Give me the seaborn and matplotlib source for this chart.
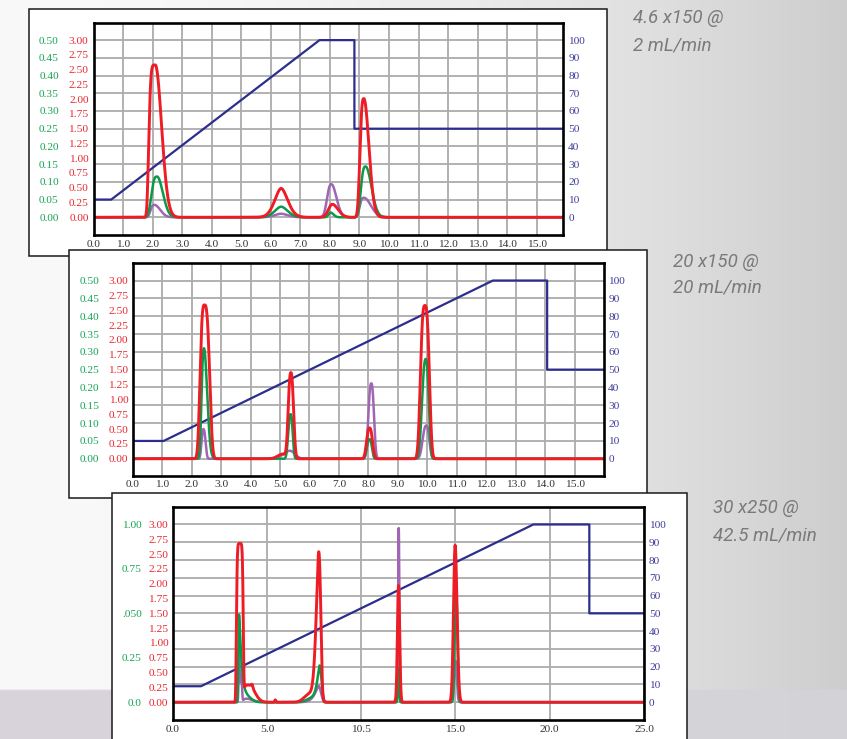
import numpy as np
import seaborn as sns
import matplotlib.pyplot as plt
from matplotlib.patches import Rectangle

W, H = 847, 739

# peak tables: (retention time [min], height [red AU], half width at half max left, right,
#               shape exponent left, right)
# ---- 4.6 x 150 @ 2 mL/min ----
P1_RED = [(2.09, 2.58, 0.22, 0.25, 5, 2), (6.35, 0.49, 0.25, 0.26, 1.8, 1.8),
          (8.08, 0.22, 0.15, 0.23, 2, 2), (9.15, 2.01, 0.14, 0.20, 3, 2)]
P1_GREEN = [(2.15, 0.69, 0.20, 0.23, 3, 2), (6.35, 0.18, 0.25, 0.26, 1.8, 1.8),
            (8.02, 0.08, 0.08, 0.12, 2, 2), (9.21, 0.86, 0.17, 0.23, 3, 2)]
P1_PURPLE = [(2.06, 0.21, 0.14, 0.23, 3, 2), (6.35, 0.06, 0.25, 0.26, 1.8, 1.8),
             (8.05, 0.56, 0.16, 0.20, 2.5, 2), (9.15, 0.33, 0.15, 0.28, 3, 2)]
P1_GRAD_T = [0.0, 0.6, 7.65, 8.83, 8.83, 15.9]
P1_GRAD_B = [10, 10, 100, 100, 50, 50]

# ---- 20 x 150 @ 20 mL/min ----
P2_RED = [(2.44, 2.59, 0.16, 0.18, 3.2, 3), (5.10, 0.08, 0.20, 0.10, 2, 2),
          (5.37, 1.45, 0.10, 0.10, 2.5, 2.5), (8.04, 0.52, 0.11, 0.11, 2.5, 2.5),
          (9.92, 2.58, 0.16, 0.16, 3, 3)]
P2_GREEN = [(2.42, 1.86, 0.09, 0.125, 2.5, 2), (5.36, 0.75, 0.09, 0.08, 2.5, 2.5),
            (8.04, 0.33, 0.10, 0.09, 2.5, 2.5), (9.95, 1.68, 0.14, 0.11, 2.5, 2.5)]
P2_PURPLE = [(2.40, 0.50, 0.07, 0.08, 2.5, 2.5), (5.34, 0.135, 0.26, 0.19, 2, 2),
             (8.10, 1.27, 0.11, 0.10, 2.5, 2.5), (9.97, 0.56, 0.14, 0.11, 2.5, 2.5)]
P2_GRAD_T = [0.0, 1.05, 12.23, 14.07, 14.07, 16.0]
P2_GRAD_B = [10, 10, 100, 100, 50, 50]

# ---- 30 x 250 @ 42.5 mL/min ----
P3_RED = [(3.56, 2.68, 0.18, 0.18, 6, 6), (4.05, 0.29, 0.30, 0.35, 6, 2),
          (4.21, 0.05, 0.05, 0.05, 2, 2), (5.44, 0.04, 0.03, 0.03, 2, 2),
          (7.20, 0.12, 0.30, 0.20, 2, 2), (7.74, 2.54, 0.15, 0.13, 1.5, 2.5),
          (11.98, 1.97, 0.07, 0.07, 2, 2), (14.98, 2.65, 0.10, 0.12, 2, 2)]
P3_GREEN = [(3.52, 1.48, 0.04, 0.12, 2, 1.3), (3.90, 0.10, 0.15, 0.30, 2, 2),
            (7.30, 0.05, 0.30, 0.20, 2, 2), (7.79, 0.62, 0.15, 0.12, 1.3, 2),
            (11.98, 0.57, 0.04, 0.04, 2, 2), (15.03, 1.98, 0.08, 0.08, 2, 2)]
P3_PURPLE = [(3.52, 0.83, 0.03, 0.03, 2, 2), (3.62, 0.45, 0.05, 0.06, 2, 3),
             (3.90, 0.06, 0.20, 0.40, 2, 2), (7.74, 0.28, 0.21, 0.14, 1.3, 2),
             (11.99, 2.94, 0.04, 0.04, 2, 2), (15.00, 0.70, 0.08, 0.08, 2, 2)]
P3_GRAD_T = [0.0, 1.5, 19.13, 22.1, 22.1, 25.0]
P3_GRAD_B = [9, 9, 100, 100, 50, 50]

# tick labels
X_TICKS_16 = [0, 1, 2, 3, 4, 5, 6, 7, 8, 9, 10, 11, 12, 13, 14, 15]
X_LABELS_16 = ['0.0', '1.0', '2.0', '3.0', '4.0', '5.0', '6.0', '7.0', '8.0',
               '9.0', '10.0', '11.0', '12.0', '13.0', '14.0', '15.0']
X_TICKS_25 = [0, 5, 10, 15, 20, 25]
X_LABELS_25 = ['0.0', '5.0', '10.5', '15.0', '20.0', '25.0']
RED_TICKS = [0, 0.25, 0.5, 0.75, 1.0, 1.25, 1.5, 1.75, 2.0, 2.25, 2.5, 2.75, 3.0]
RED_LABELS = ['0.00', '0.25', '0.50', '0.75', '1.00', '1.25', '1.50', '1.75',
              '2.00', '2.25', '2.50', '2.75', '3.00']
GREEN_TICKS_05 = [0, 0.05, 0.10, 0.15, 0.20, 0.25, 0.30, 0.35, 0.40, 0.45, 0.50]
GREEN_LABELS_05 = ['0.00', '0.05', '0.10', '0.15', '0.20', '0.25', '0.30',
                   '0.35', '0.40', '0.45', '0.50']
GREEN_TICKS_1 = [0, 0.25, 0.5, 0.75, 1.0]
GREEN_LABELS_1 = ['0.0', '0.25', '.050', '0.75', '1.00']
BLUE_TICKS = [0, 10, 20, 30, 40, 50, 60, 70, 80, 90, 100]
TITLES = [('4.6 x150 @', '2 mL/min'), ('20 x150 @', '20 mL/min'), ('30 x250 @', '42.5 mL/min')]

RED, GREEN, PURPLE, BLUE = '#ee1c25', '#0a9a48', '#a066b4', '#2b2e8c'
RED_TXT, GREEN_TXT, BLUE_TXT = '#e8262e', '#17a457', '#3d3d99'
GRID = '#ababab'
FS = 8.2

sns.set_theme(style='white')
plt.rcParams['font.family'] = ['Liberation Serif', 'DejaVu Serif']


def trace(t, comps):
    y = np.zeros_like(t)
    for c, h, wl, wr, pl, pr in comps:
        left = t < c
        w = np.where(left, wl, wr)
        p = np.where(left, pl, pr)
        y += h * np.exp(-np.log(2) * np.abs((t - c) / w) ** p)
    return y


def frac(l, t, r, b):
    return [l / W, 1 - b / H, (r - l) / W, (b - t) / H]


panels = [
    dict(box=(29, 9, 607, 255.5), plot=(93.5, 23, 563.3, 235), ylim=(-0.30, 3.29), xmax=15.9,
         xticks=X_TICKS_16, xlabels=X_LABELS_16, red=P1_RED, green=P1_GREEN, purple=P1_PURPLE,
         gt=P1_GRAD_T, gb=P1_GRAD_B, gticks=GREEN_TICKS_05, glabels=GREEN_LABELS_05, gscale=6,
         xpad=3.4, rpad=3.6, gpad=25, bpad=3.6, title=TITLES[0], txy=(633, 18, 45)),
    dict(box=(69, 249.5, 647, 497.5), plot=(132.7, 263.3, 604, 476), ylim=(-0.29, 3.29), xmax=16.0,
         xticks=X_TICKS_16, xlabels=X_LABELS_16, red=P2_RED, green=P2_GREEN, purple=P2_PURPLE,
         gt=P2_GRAD_T, gb=P2_GRAD_B, gticks=GREEN_TICKS_05, glabels=GREEN_LABELS_05, gscale=6,
         xpad=2.6, rpad=3.2, gpad=24, bpad=3.1, title=TITLES[1], txy=(673, 262, 288)),
    dict(box=(111.7, 493.3, 686.7, 760), plot=(172.7, 506.7, 644, 720), ylim=(-0.30, 3.30), xmax=25.0,
         xticks=X_TICKS_25, xlabels=X_LABELS_25, red=P3_RED, green=P3_GREEN, purple=P3_PURPLE,
         gt=P3_GRAD_T, gb=P3_GRAD_B, gticks=GREEN_TICKS_1, glabels=GREEN_LABELS_1, gscale=3,
         xpad=3.4, rpad=3.2, gpad=22.3, bpad=3.6, title=TITLES[2], txy=(713, 508, 535)),
]

fig = plt.figure(figsize=(W / 100, H / 100), dpi=100)

# page background
bg = fig.add_axes([0, 0, 1, 1], zorder=-10)
gx = np.linspace(0, 1, 300)[None, :]
gy = np.linspace(0, 1, 300)[:, None]
shade = (0.975 - 0.17 * gx ** 2) * np.ones_like(gy)
img = np.dstack([shade, shade, shade])
band = gy[:, 0] > 692 / H
img[band] = np.array([0.85, 0.83, 0.86]) * (1 - gx[0][:, None]) + np.array([0.83, 0.83, 0.845]) * gx[0][:, None]
bg.imshow(img, aspect='auto', extent=(0, 1, 0, 1), origin='upper')
bg.axis('off')

for i, p in enumerate(panels):
    z = 2 * i + 1
    l, t, r, b = p['box']
    fig.add_artist(Rectangle((l / W, 1 - b / H), (r - l) / W, (b - t) / H, transform=fig.transFigure,
                             facecolor='white', edgecolor='#1a1a1a', lw=1.1, zorder=z))

    ax = fig.add_axes(frac(*p['plot']))
    tw = ax.twinx()
    tw.set_zorder(z + 1)
    ax.set_zorder(z + 1.1)
    ax.patch.set_visible(False)
    tw.patch.set_visible(True)
    tw.patch.set_facecolor('white')

    tt = np.linspace(0, p['xmax'], 6000)
    for comps, col, lw in [(p['purple'], PURPLE, 1.8), (p['green'], GREEN, 1.8), (p['red'], RED, 2.1)]:
        sns.lineplot(x=tt, y=trace(tt, comps), ax=ax, color=col, lw=lw, legend=False)
    sns.lineplot(x=p['gt'], y=p['gb'], ax=tw, color=BLUE, lw=1.6, estimator=None, sort=False)

    ax.set_xlim(0, p['xmax'])
    ax.set_ylim(*p['ylim'])
    tw.set_ylim(p['ylim'][0] * 100 / 3, p['ylim'][1] * 100 / 3)
    ax.set_xlabel('')
    ax.set_ylabel('')
    tw.set_ylabel('')

    ax.set_xticks(p['xticks'], p['xlabels'])
    ax.set_yticks(RED_TICKS, RED_LABELS)
    ax.tick_params(axis='x', length=0, pad=p['xpad'], labelsize=FS, labelcolor='#333333')
    ax.tick_params(axis='y', length=0, pad=p['rpad'], labelsize=FS, labelcolor=RED_TXT)
    ax.grid(False)

    tw.set_yticks(BLUE_TICKS, [str(v) for v in BLUE_TICKS])
    tw.tick_params(axis='y', length=0, pad=p['bpad'], labelsize=FS, labelcolor=BLUE_TXT)
    tw.xaxis.set_visible(True)
    tw.tick_params(axis='x', length=0, labelbottom=False, labeltop=False)
    tw.grid(True, axis='both', color=GRID, lw=1.3)
    tw.set_axisbelow(True)
    for s in tw.spines.values():
        s.set_visible(False)
    for s in ax.spines.values():
        s.set_visible(True)
        s.set_color('black')
        s.set_linewidth(1.9)

    k = p['gscale']
    sec = ax.secondary_yaxis('left', functions=(lambda v, k=k: v / k, lambda v, k=k: v * k))
    sec.set_yticks(p['gticks'], p['glabels'])
    sec.tick_params(length=0, pad=p['gpad'], labelsize=FS, labelcolor=GREEN_TXT)
    sec.spines['left'].set_visible(False)

    tx, ty1, ty2 = p['txy']
    for s, yy in zip(p['title'], (ty1, ty2)):
        fig.text(tx / W, 1 - yy / H, s, ha='left', va='center', fontsize=13.5, style='italic',
                 family=['Liberation Sans Narrow', 'Roboto', 'DejaVu Sans'], color='#7a7a7a', zorder=20)

fig.savefig('out.png', dpi=100)
